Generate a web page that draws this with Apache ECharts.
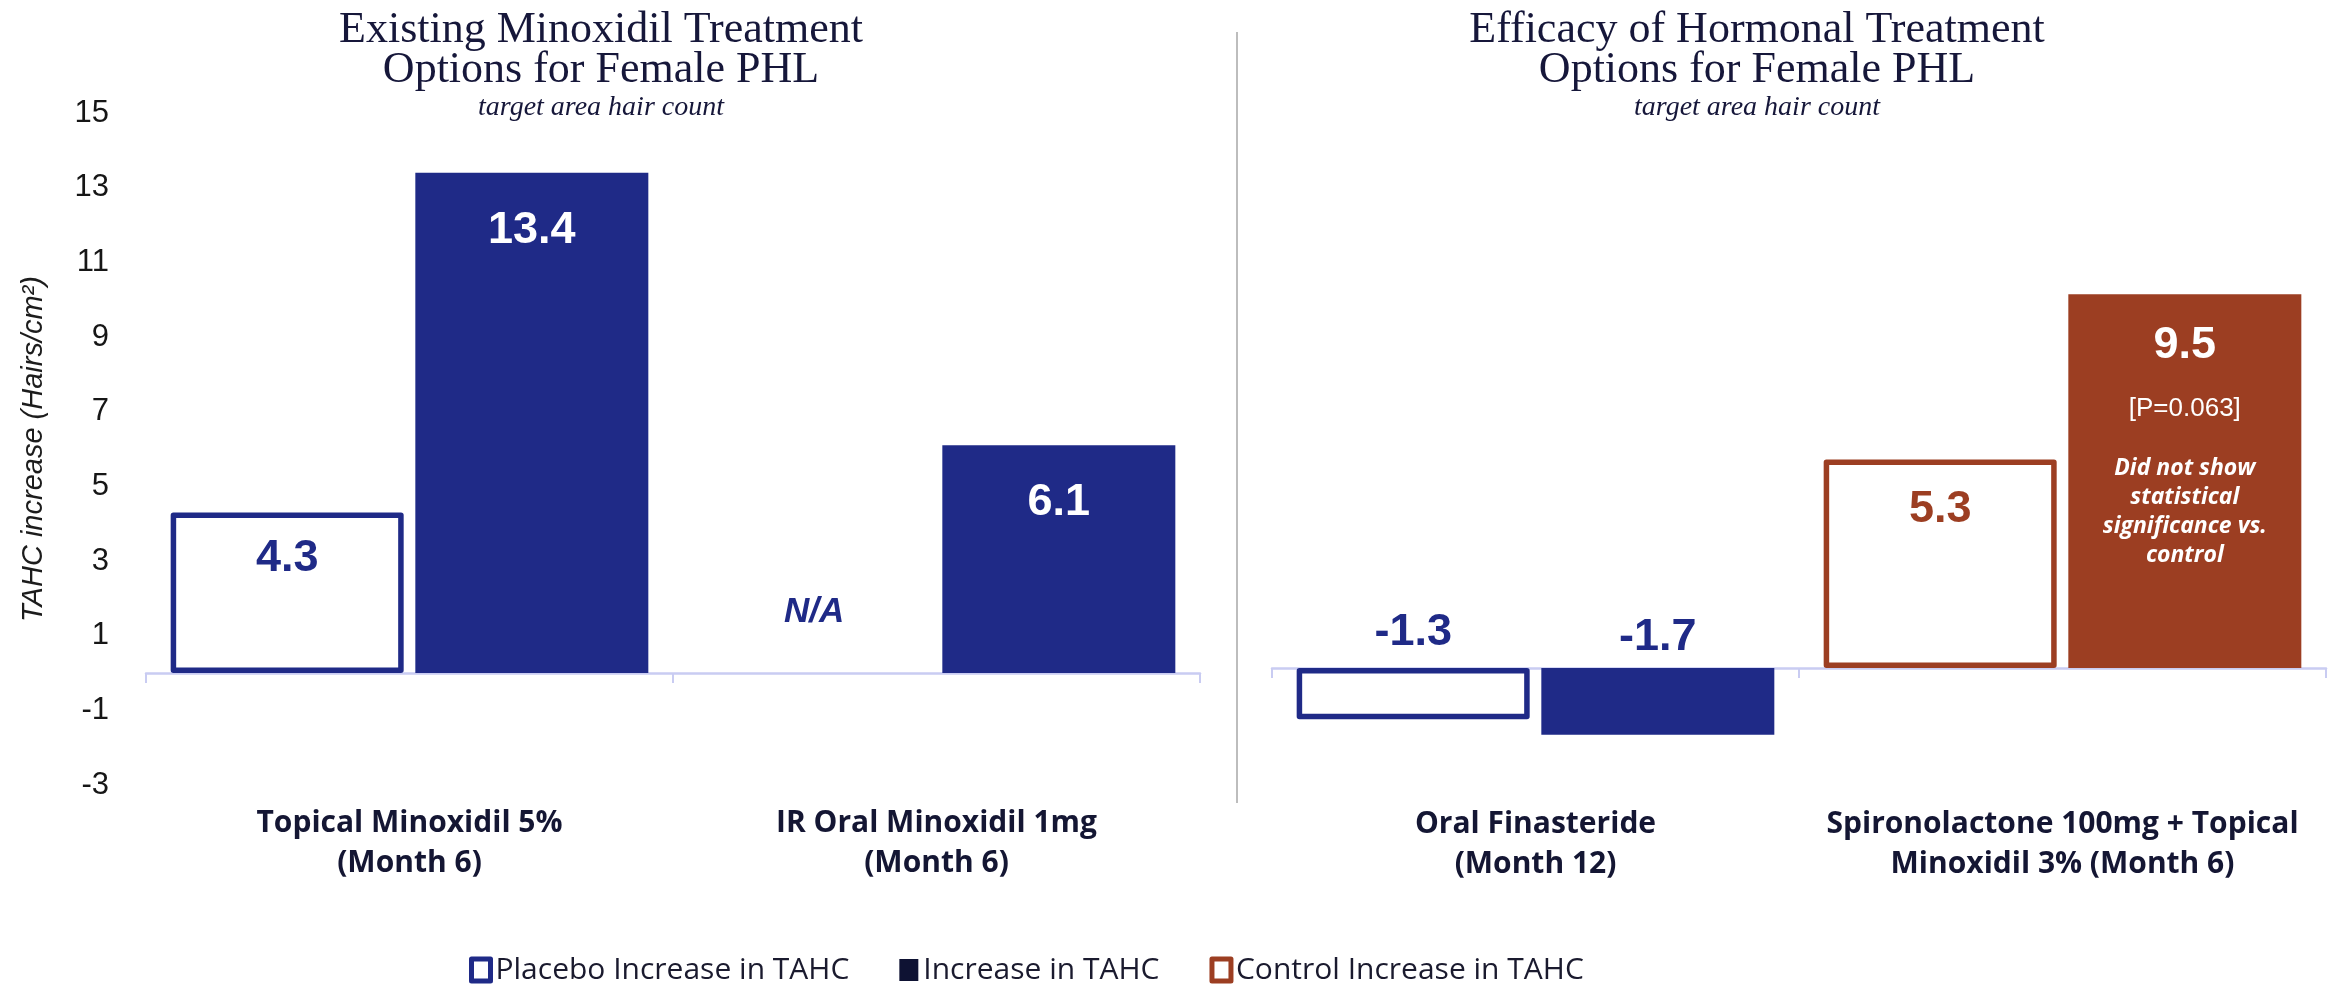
<!DOCTYPE html>
<html>
<head>
<meta charset="utf-8">
<script src="https://cdn.jsdelivr.net/npm/echarts@6/dist/echarts.min.js"></script>
<style>
  html, body { margin: 0; padding: 0; background: #ffffff; }
  #chart { width: 2339px; height: 985px; }
</style>
</head>
<body>
<div id="chart"></div>
<script>
// ---- Data ----
const leftTitle = 'Existing Minoxidil Treatment\nOptions for Female PHL';
const rightTitle = 'Efficacy of Hormonal Treatment\nOptions for Female PHL';
const subTitle = 'target area hair count';
const yAxisName = 'TAHC increase (Hairs/cm\u00B2)';
const yTicks = [-3, -1, 1, 3, 5, 7, 9, 11, 13, 15];

const leftCategories = ['Topical Minoxidil 5%\n(Month 6)', 'IR Oral Minoxidil 1mg\n(Month 6)'];
const leftPlacebo = [4.3, null];          // null = N/A
const leftTreatment = [13.4, 6.1];

const rightCategories = ['Oral Finasteride\n(Month 12)', 'Spironolactone 100mg + Topical\nMinoxidil 3% (Month 6)'];
const rightPlacebo = [-1.3, null];
const rightControl = [null, 5.3];
const rightTreatment = [-1.7, null];
const rightSpiroTreatment = [null, 9.5];
const spiroNote = ['[P=0.063]', 'Did not show', 'statistical', 'significance vs.', 'control'];

const legendNames = ['Placebo Increase in TAHC', 'Increase in TAHC', 'Control Increase in TAHC'];

// ---- Styles ----
const navy = '#1F2A87';
const rust = '#9C3E22';
const legendDark = '#0E1233';
const axisLav = '#C9CCF2';
const textDark = '#141633';
const sansNum = '"Liberation Sans", Arial, sans-serif';
const sansText = '"Open Sans", "Noto Sans", sans-serif';
const serif = '"Liberation Serif", "DejaVu Serif", serif';

const fmt = p => Number(p.value).toFixed(1);

function outlinedData(arr) {
  return arr.map(v => v === null ? {
    value: 0,
    itemStyle: { borderWidth: 0, color: 'rgba(0,0,0,0)' },
    label: { show: true, position: 'top', distance: 43, formatter: 'N/A',
             fontStyle: 'italic', fontSize: 35, color: navy, fontWeight: 'bold' }
  } : v);
}

const chart = echarts.init(document.getElementById('chart'), null, { renderer: 'canvas' });

const catLabelStyle = {
  fontFamily: sansText, fontWeight: 'bold', fontSize: 30, lineHeight: 40,
  color: textDark, margin: 18, interval: 0
};

const numLabel = { fontFamily: sansNum, fontWeight: 'bold', fontSize: 45 };

const option = {
  animation: false,
  backgroundColor: '#ffffff',
  title: [
    {
      text: leftTitle, subtext: subTitle, left: 601, top: 10, textAlign: 'center',
      padding: 0, itemGap: 0,
      textStyle: { fontFamily: serif, fontSize: 44, lineHeight: 40, fontWeight: 'normal', color: '#16173A' },
      subtextStyle: { fontFamily: serif, fontSize: 28, lineHeight: 28, fontStyle: 'italic', color: '#16173A' }
    },
    {
      text: rightTitle, subtext: subTitle, left: 1757, top: 10, textAlign: 'center',
      padding: 0, itemGap: 0,
      textStyle: { fontFamily: serif, fontSize: 44, lineHeight: 40, fontWeight: 'normal', color: '#16173A' },
      subtextStyle: { fontFamily: serif, fontSize: 28, lineHeight: 28, fontStyle: 'italic', color: '#16173A' }
    }
  ],
  legend: {
    left: 464, top: 950, orient: 'horizontal',
    itemWidth: 19, itemHeight: 22, itemGap: 50,
    icon: 'rect',
    textStyle: { fontFamily: sansText, fontSize: 30, color: '#1A1A2E' },
    data: [
      { name: legendNames[0], itemStyle: { color: '#ffffff', borderColor: navy, borderWidth: 5 } },
      { name: legendNames[1], itemStyle: { color: legendDark, borderWidth: 0 } },
      { name: legendNames[2], itemStyle: { color: '#ffffff', borderColor: rust, borderWidth: 5 } }
    ]
  },
  graphic: [
    { type: 'line', shape: { x1: 1237, y1: 32, x2: 1237, y2: 803 },
      style: { stroke: '#BDBDBD', lineWidth: 2 }, silent: true }
  ],
  grid: [
    { left: 146, right: 1139, top: 113, bottom: 200 },
    { left: 1272, right: 13, top: 78, bottom: 199 }
  ],
  xAxis: [
    { type: 'category', gridIndex: 0, data: leftCategories, position: 'bottom',
      axisLine: { show: false, onZero: false }, axisTick: { show: false },
      axisLabel: catLabelStyle, splitLine: { show: false } },
    { type: 'category', gridIndex: 0, data: leftCategories, position: 'bottom',
      axisLine: { show: true, onZero: true, lineStyle: { color: axisLav, width: 2.5 } },
      axisTick: { show: true, length: 10, lineStyle: { color: axisLav, width: 2 } },
      axisLabel: { show: false }, splitLine: { show: false } },
    { type: 'category', gridIndex: 1, data: rightCategories, position: 'bottom',
      axisLine: { show: false, onZero: false }, axisTick: { show: false },
      axisLabel: catLabelStyle, splitLine: { show: false } },
    { type: 'category', gridIndex: 1, data: rightCategories, position: 'bottom',
      axisLine: { show: true, onZero: true, lineStyle: { color: axisLav, width: 2.5 } },
      axisTick: { show: true, length: 10, lineStyle: { color: axisLav, width: 2 } },
      axisLabel: { show: false }, splitLine: { show: false } }
  ],
  yAxis: [
    { type: 'value', gridIndex: 0, min: yTicks[0], max: yTicks[yTicks.length - 1],
      name: yAxisName, nameLocation: 'middle', nameGap: 98, nameRotate: 90,
      nameTextStyle: { fontFamily: sansNum, fontSize: 29, fontStyle: 'italic', color: '#1C1C1C' },
      axisLine: { show: false }, axisTick: { show: false }, splitLine: { show: false },
      axisLabel: { customValues: yTicks, fontFamily: sansNum, fontSize: 31, color: '#161616', margin: 37 } },
    { type: 'value', gridIndex: 1, min: yTicks[0], max: yTicks[yTicks.length - 1],
      axisLine: { show: false }, axisTick: { show: false }, splitLine: { show: false },
      axisLabel: { show: false } }
  ],
  series: [
    // Left panel
    { name: legendNames[0], type: 'bar', xAxisIndex: 0, yAxisIndex: 0,
      data: outlinedData(leftPlacebo), barWidth: 233, barGap: '5%',
      itemStyle: { color: '#ffffff', borderColor: navy, borderWidth: 5.5, borderJoin: 'round' },
      label: Object.assign({ show: true, position: 'insideTop', distance: 24, formatter: fmt, color: navy }, numLabel) },
    { name: legendNames[1], type: 'bar', xAxisIndex: 0, yAxisIndex: 0,
      data: leftTreatment, barWidth: 233, barGap: '5%',
      itemStyle: { color: navy },
      label: Object.assign({ show: true, position: 'insideTop', distance: 35, formatter: fmt, color: '#ffffff' }, numLabel) },
    // Right panel
    { name: legendNames[0], type: 'bar', xAxisIndex: 2, yAxisIndex: 1, stack: 'ctrl',
      data: rightPlacebo, barWidth: 233, barGap: '5%',
      itemStyle: { color: '#ffffff', borderColor: navy, borderWidth: 5.5, borderJoin: 'round' },
      label: Object.assign({ show: true, position: 'top', distance: 13, formatter: fmt, color: navy }, numLabel) },
    { name: legendNames[2], type: 'bar', xAxisIndex: 2, yAxisIndex: 1, stack: 'ctrl',
      data: rightControl, barWidth: 233, barGap: '5%',
      itemStyle: { color: '#ffffff', borderColor: rust, borderWidth: 5.5, borderJoin: 'round' },
      label: Object.assign({ show: true, position: 'insideTop', distance: 28, formatter: fmt, color: rust }, numLabel) },
    { name: legendNames[1], type: 'bar', xAxisIndex: 2, yAxisIndex: 1, stack: 'trt',
      data: rightTreatment, barWidth: 233, barGap: '5%',
      itemStyle: { color: navy },
      label: Object.assign({ show: true, position: 'top', distance: 8, formatter: fmt, color: navy }, numLabel) },
    { name: legendNames[1], type: 'bar', xAxisIndex: 2, yAxisIndex: 1, stack: 'trt',
      data: rightSpiroTreatment, barWidth: 233, barGap: '5%',
      itemStyle: { color: rust },
      label: {
        show: true, position: 'insideTop', distance: 22, align: 'center',
        formatter: p => '{v|' + Number(p.value).toFixed(1) + '}\n{p|' + spiroNote[0] + '}\n{sp| }\n' +
          spiroNote.slice(1).map(s => '{n|' + s + '}').join('\n'),
        rich: {
          v: { fontFamily: sansNum, fontWeight: 'bold', fontSize: 45, lineHeight: 58, color: '#ffffff', align: 'center' },
          p: { fontFamily: sansNum, fontSize: 26, lineHeight: 68, color: '#ffffff', align: 'center' },
          sp: { fontSize: 1, lineHeight: 12 },
          n: { fontFamily: sansText, fontWeight: 'bold', fontStyle: 'italic', fontSize: 23, lineHeight: 29, color: '#ffffff', align: 'center' }
        }
      } }
  ]
};

chart.setOption(option);
</script>
</body>
</html>
